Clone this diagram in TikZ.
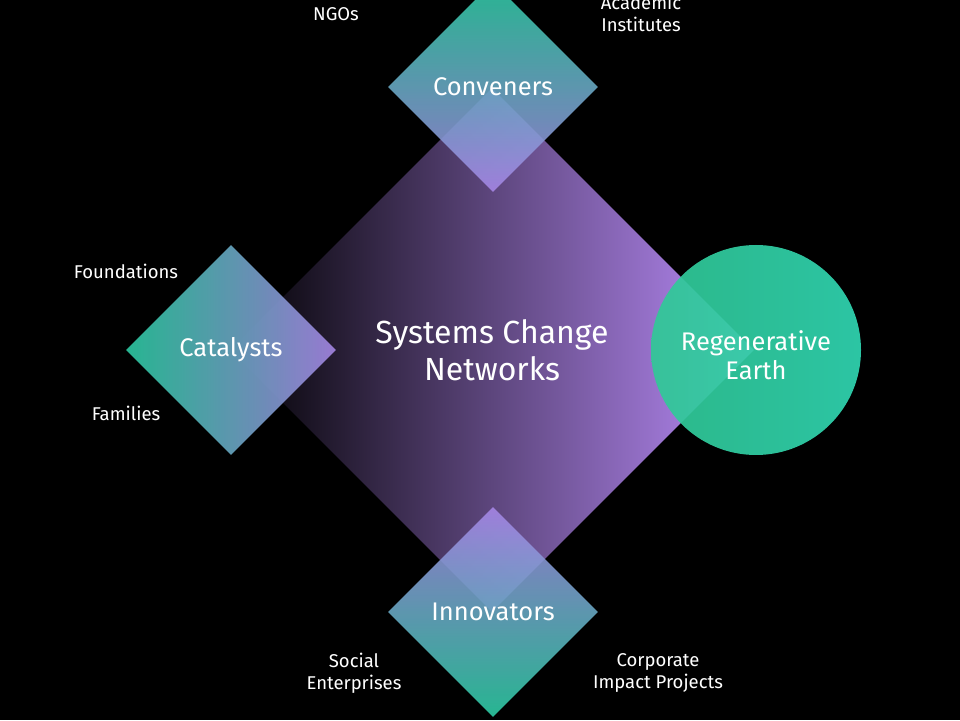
\documentclass[tikz,border=0pt]{standalone}
\usepackage{fontspec}
\setmainfont{Fira Sans}
\usepackage{xcolor}
\usetikzlibrary{shapes.geometric}

\definecolor{teal1}{RGB}{45,207,166}
\definecolor{lilac}{RGB}{168,135,232}
\definecolor{corepurple}{RGB}{186,140,250}
\definecolor{earthtop}{RGB}{48,214,178}
\definecolor{earthbot}{RGB}{48,200,150}

\tikzset{
    smalldia/.style={diamond, aspect=1, minimum width=210pt, minimum height=210pt,
        inner sep=0pt, fill opacity=0.88, text opacity=1, text=white,
        font=\fontsize{25.5}{30}\selectfont},
    lbl/.style={text=white, align=center, font=\fontsize{18.5}{22}\selectfont}
}

\begin{document}
\begin{tikzpicture}[x=1pt, y=1pt]
    \fill[black] (0,0) rectangle (960,720);
    \useasboundingbox (0,0) rectangle (960,720);

    % =====================
    % Core diamond
    % =====================
    \node[diamond, aspect=1, minimum width=524pt, minimum height=524pt, inner sep=0pt,
        left color=black, right color=corepurple, text=white, align=center,
        font=\fontsize{32}{37}\selectfont] (core) at (492,370) {Systems Change\\Networks};

    % =====================
    % Roles around the core
    % =====================
    \node[smalldia, top color=teal1, bottom color=lilac] (conv) at (493,633) {Conveners};
    \node[smalldia, left color=teal1, right color=lilac] (cata) at (231,370) {Catalysts};
    \node[smalldia, top color=lilac, bottom color=teal1] (inno) at (493,108) {Innovators};

    % Goal
    \node[circle, minimum size=210pt, inner sep=0pt, fill opacity=0.92,
        left color=earthbot, right color=earthtop] (earth) at (756,370) {};
    \node[text=white, align=center, font=\fontsize{25.5}{29}\selectfont]
        (earthtxt) at ([yshift=-5pt]earth.center) {Regenerative\\Earth};

    % =====================
    % Actors
    % =====================
    \foreach \name/\x/\y/\txt in {ngo/336/706/NGOs, acad/641/707/{Academic\\Institutes},
        found/126/449/Foundations, fam/126/307/Families,
        social/354/47/{Social\\Enterprises}, corp/658/47/{Corporate\\Impact Projects}} {
        \node[lbl] (\name) at (\x,\y) {\txt};
    }
\end{tikzpicture}
\end{document}
